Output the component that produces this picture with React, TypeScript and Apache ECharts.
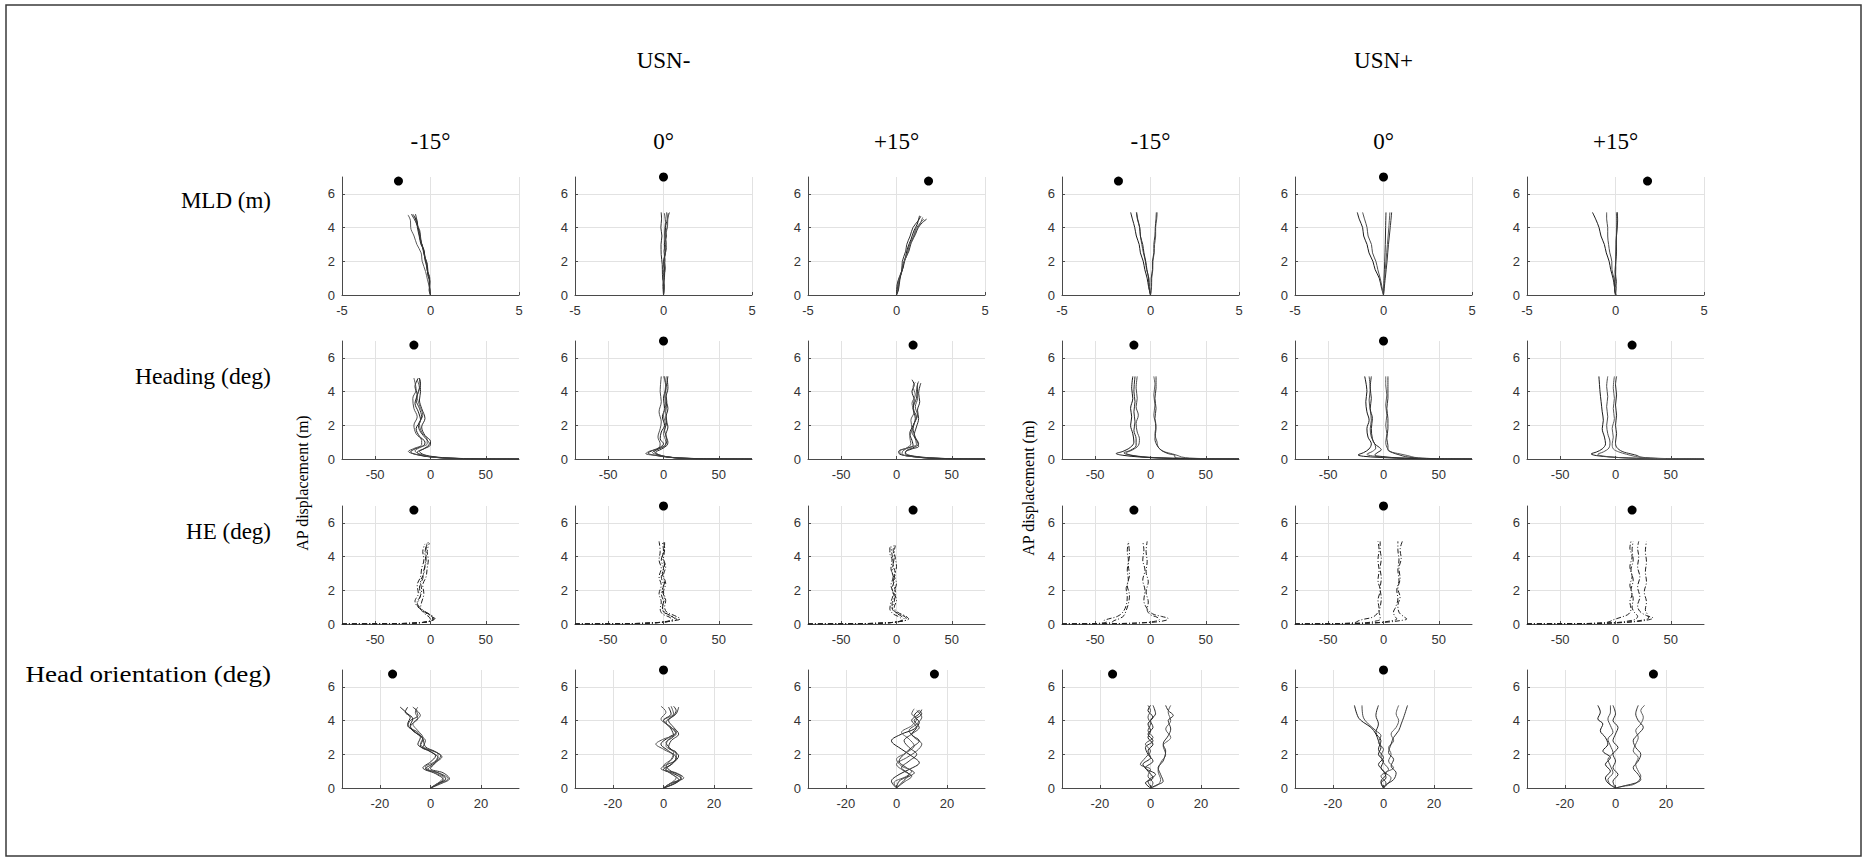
import React, { useEffect, useRef } from "react";
import * as echarts from "echarts";

// ---------- Texts ----------
const groupTitles = ["USN-", "USN+"];
const columnTitles = ["-15°", "0°", "+15°", "-15°", "0°", "+15°"];
const rowTitles = ["MLD (m)", "Heading (deg)", "HE (deg)", "Head orientation (deg)"];
const yAxisTitle = "AP displacement (m)";

// ---------- Axes ----------
const yTicks = [0, 2, 4, 6];
const yRange = [0, 7];
const xRanges = [[-5, 5], [-80, 80], [-80, 80], [-35, 35]];
const xTicks = [[-5, 0, 5], [-50, 0, 50], [-50, 0, 50], [-20, 0, 20]];

// ---------- Target positions (black dots) ----------
const targetXMld = [-1.81, 0, 1.81];
const targetXDeg = [-15, 0, 15];
const targetY = [6.76, 7, 6.76];

// ---------- Row 1: MLD (m) ----------
const mldNegM15 = [
  [[0,0],[-0.04,0.4],[-0.06,0.9],[-0.14,1.3],[-0.18,1.8],[-0.3,2.2],[-0.38,2.7],[-0.52,3.1],[-0.58,3.6],[-0.7,4.0],[-0.76,4.4],[-0.85,4.8]],
  [[0,0],[-0.05,0.5],[-0.04,1.0],[-0.17,1.4],[-0.2,1.9],[-0.33,2.3],[-0.43,2.8],[-0.57,3.3],[-0.6,3.8],[-0.78,4.2],[-0.88,4.6],[-1.0,4.8]],
  [[0,0],[-0.08,0.3],[-0.03,0.8],[-0.16,1.2],[-0.18,1.6],[-0.32,2.1],[-0.36,2.6],[-0.54,3.0],[-0.64,3.5],[-0.74,4.0],[-0.78,4.4],[-0.95,4.7]],
  [[0,0],[-0.05,0.4],[-0.17,0.9],[-0.28,1.4],[-0.47,2.0],[-0.53,2.5],[-0.77,3.0],[-0.93,3.5],[-1.12,4.0],[-1.13,4.4],[-1.27,4.75]],
  [[0,0],[-0.07,0.6],[-0.08,1.1],[-0.2,1.5],[-0.26,2.0],[-0.37,2.4],[-0.46,2.9],[-0.6,3.4],[-0.68,3.9],[-0.82,4.3],[-1.08,4.8]],
];
const mldNeg0 = [
  [[0,0],[0.03,0.5],[-0.04,1.0],[0.06,1.5],[0.01,2.0],[0.11,2.5],[0.05,3.0],[0.16,3.5],[0.11,4.0],[0.21,4.5],[0.18,4.9]],
  [[0,0],[-0.04,0.6],[0.05,1.1],[-0.03,1.6],[0.09,2.1],[0.03,2.6],[0.15,3.1],[0.09,3.6],[0.23,4.1],[0.24,4.5],[0.34,4.9]],
  [[0,0],[0.02,0.5],[-0.06,1.2],[-0.07,1.8],[-0.13,2.4],[-0.14,3.0],[-0.09,3.5],[-0.15,4.0],[-0.11,4.5],[-0.13,4.9]],
  [[0,0],[0.05,0.5],[-0.01,1.0],[0.11,1.6],[0.05,2.2],[0.17,2.8],[0.11,3.4],[0.21,4.0],[0.23,4.5],[0.28,4.85]],
  [[0,0],[0.03,0.7],[0.07,1.4],[0.02,2.0],[0.1,2.6],[0.07,3.2],[0.07,3.8],[0.11,4.3],[0.05,4.85]],
];
const mldNegP15 = [
  [[0,0],[0.06,0.4],[0.14,0.9],[0.31,1.4],[0.41,1.9],[0.52,2.3],[0.63,2.8],[0.82,3.3],[0.98,3.8],[1.17,4.2],[1.3,4.7]],
  [[0,0],[0.11,0.5],[0.19,1.0],[0.32,1.5],[0.43,2.0],[0.62,2.5],[0.73,3.0],[0.97,3.5],[1.08,3.9],[1.37,4.3],[1.55,4.5]],
  [[0,0],[0.03,0.6],[0.17,1.1],[0.37,1.6],[0.48,2.1],[0.7,2.6],[0.83,3.1],[1.07,3.6],[1.23,4.0],[1.47,4.3],[1.7,4.5]],
  [[0,0.05],[0.09,0.3],[0.11,0.8],[0.27,1.3],[0.36,1.8],[0.57,2.3],[0.68,2.8],[0.92,3.3],[1.1,3.8],[1.32,4.2],[1.48,4.6]],
  [[0,0],[0.11,0.3],[0.19,0.9],[0.3,1.5],[0.33,2.0],[0.52,2.6],[0.58,3.0],[0.77,3.5],[0.93,4.0],[1.22,4.4],[1.38,4.68]],
];
const mldPosM15 = [
  [[0,0],[-0.11,0.5],[-0.19,1.0],[-0.32,1.5],[-0.41,2.0],[-0.57,2.5],[-0.64,3.0],[-0.8,3.5],[-0.89,4.0],[-1.02,4.5],[-1.12,4.9]],
  [[0,0],[-0.06,0.5],[-0.09,1.0],[-0.22,1.5],[-0.29,2.0],[-0.4,2.5],[-0.49,3.0],[-0.57,3.5],[-0.61,4.0],[-0.72,4.5],[-0.8,4.9]],
  [[0,0],[-0.09,0.5],[-0.11,1.0],[-0.2,1.5],[-0.27,2.0],[-0.37,2.5],[-0.44,3.0],[-0.57,3.5],[-0.61,4.0],[-0.74,4.5],[-0.78,4.9]],
  [[0,0],[0.06,0.5],[0.07,1.0],[0.13,1.5],[0.14,2.0],[0.21,2.5],[0.23,3.0],[0.29,3.5],[0.29,4.0],[0.35,4.5],[0.38,4.9]],
  [[0,0],[0.04,0.5],[0.04,1.0],[0.11,1.5],[0.11,2.0],[0.19,2.5],[0.19,3.0],[0.25,3.5],[0.27,4.0],[0.31,4.5],[0.33,4.9]],
];
const mldPos0 = [
  [[0,0],[-0.11,0.4],[-0.24,1.0],[-0.47,1.5],[-0.6,2.0],[-0.82,2.5],[-0.93,3.0],[-1.12,3.5],[-1.18,4.0],[-1.37,4.5],[-1.48,4.9]],
  [[0,0],[-0.09,0.5],[-0.19,1.0],[-0.32,1.5],[-0.43,2.0],[-0.62,2.5],[-0.68,3.0],[-0.87,3.5],[-0.93,4.0],[-1.07,4.5],[-1.18,4.9]],
  [[0,0],[0.03,1.0],[0.07,2.0],[0.1,3.0],[0.12,4.0],[0.14,4.9]],
  [[0,0],[0.06,1.0],[0.14,2.0],[0.22,3.0],[0.3,4.0],[0.36,4.9]],
  [[0,0],[0.1,1.0],[0.2,2.0],[0.28,3.0],[0.38,4.0],[0.46,4.9]],
];
const mldPosP15 = [
  [[0,0],[-0.06,0.5],[-0.14,1.0],[-0.27,1.5],[-0.36,2.0],[-0.52,2.5],[-0.63,3.0],[-0.82,3.5],[-0.93,4.0],[-1.12,4.5],[-1.3,4.9]],
  [[0,0],[-0.06,0.5],[-0.09,1.0],[-0.2,1.5],[-0.21,2.0],[-0.32,2.5],[-0.39,3.0],[-0.44,3.5],[-0.44,4.0],[-0.5,4.5],[-0.5,4.9]],
  [[0,0],[-0.05,0.6],[-0.02,1.2],[0,1.8],[0.02,2.4],[0.04,3.0],[0.06,3.6],[0.08,4.2],[0.1,4.9]],
  [[0,0],[0.05,0.4],[0.0,1.0],[0.02,1.6],[0.0,2.2],[0.03,2.8],[0.05,3.5],[0.07,4.2],[0.05,4.9]],
  [[0.05,0],[-0.05,0.3],[0.05,0.8],[-0.02,1.4],[0.02,2.0],[0.06,2.6],[0.04,3.2],[0.08,3.8],[0.12,4.4],[0.1,4.9]],
];

// ---------- Row 2: Heading (deg) ----------
const hdgNegM15 = [
  [[80,0],[40,0.01],[15,0.05],[0,0.12],[-12,0.25],[-18,0.42],[-14,0.6],[-6,0.8],[-5,1.0],[-10,1.35],[-13,1.8],[-9,2.3],[-11,2.8],[-14,3.3],[-12,3.8],[-14,4.3],[-11,4.8]],
  [[80,0],[35,0.02],[12,0.06],[-2,0.15],[-15,0.3],[-20,0.45],[-15,0.62],[-8,0.85],[-8,1.1],[-13,1.5],[-15,2.0],[-12,2.5],[-15,3.0],[-16,3.6],[-13,4.1],[-15,4.8]],
  [[80,0],[45,0.01],[20,0.04],[5,0.1],[-8,0.22],[-12,0.4],[-6,0.6],[0,0.85],[0,1.05],[-5,1.4],[-8,1.9],[-5,2.4],[-8,3.0],[-10,3.5],[-9,4.0],[-10,4.8]],
  [[80,0],[38,0.02],[14,0.06],[0,0.14],[-10,0.3],[-14,0.48],[-9,0.7],[-3,0.9],[-3,1.15],[-8,1.6],[-10,2.1],[-7,2.6],[-10,3.2],[-12,3.7],[-10,4.2],[-12,4.7]],
  [[80,0],[42,0.015],[18,0.05],[4,0.13],[-6,0.26],[-10,0.45],[-5,0.65],[-1,0.9],[-4,1.2],[-9,1.6],[-11,2.0],[-8,2.5],[-10,3.0],[-13,3.5],[-11,4.0],[-9,4.5],[-10,4.8]],
];
const hdgNeg0 = [
  [[80,0],[40,0.01],[18,0.04],[5,0.1],[-8,0.22],[-14,0.35],[-10,0.5],[-3,0.7],[0,0.9],[-3,1.2],[-2,1.6],[1,2.0],[-1,2.5],[1,3.0],[0,3.6],[2,4.2],[1,4.9]],
  [[80,0],[45,0.01],[20,0.04],[8,0.09],[-5,0.2],[-16,0.32],[-12,0.48],[-5,0.6],[-3,0.9],[-5,1.3],[-3,1.8],[-2,2.2],[-4,2.8],[-2,3.4],[-3,4.0],[-2,4.9]],
  [[80,0],[38,0.015],[15,0.05],[4,0.12],[-4,0.25],[-7,0.4],[-2,0.58],[3,0.8],[4,1.0],[2,1.4],[4,1.9],[2,2.4],[4,3.0],[2,3.6],[4,4.2],[3,4.9]],
  [[80,0],[42,0.01],[18,0.05],[6,0.11],[-3,0.22],[-10,0.38],[-6,0.55],[1,0.75],[2,1.05],[0,1.5],[2,2.0],[0,2.6],[2,3.2],[1,3.8],[2,4.4],[0,4.9]],
  [[80,0],[36,0.02],[14,0.06],[2,0.14],[-6,0.27],[-8,0.45],[-3,0.65],[2,0.85],[3,1.2],[1,1.7],[3,2.2],[2,2.8],[3,3.4],[2,4.0],[3,4.5],[4,4.9]],
];
const hdgNegP15 = [
  [[80,0],[50,0.02],[30,0.06],[15,0.14],[3,0.28],[2,0.45],[8,0.62],[15,0.8],[14,1.1],[12,1.5],[15,2.0],[18,2.5],[15,3.0],[16,3.5],[14,4.0],[16,4.4],[14,4.7]],
  [[80,0],[45,0.02],[25,0.07],[12,0.16],[5,0.3],[6,0.5],[12,0.7],[18,0.85],[17,1.2],[14,1.6],[16,2.1],[19,2.6],[17,3.1],[19,3.6],[18,4.1],[20,4.6]],
  [[80,0],[55,0.015],[35,0.05],[22,0.12],[10,0.25],[8,0.4],[14,0.6],[20,0.75],[19,1.0],[16,1.4],[18,1.9],[20,2.4],[19,2.9],[21,3.4],[20,3.9],[22,4.5]],
  [[80,0],[48,0.02],[28,0.07],[14,0.15],[4,0.28],[3,0.48],[9,0.65],[13,0.9],[12,1.3],[14,1.8],[13,2.3],[16,2.8],[14,3.3],[17,3.8],[15,4.3],[17,4.55]],
  [[80,0],[52,0.02],[30,0.05],[18,0.13],[8,0.3],[9,0.5],[16,0.7],[20,0.9],[17,1.3],[15,1.8],[17,2.4],[15,3.0],[18,3.6],[19,4.1],[19,4.5]],
];
const hdgPosM15 = [
  [[80,0],[40,0.02],[10,0.06],[-10,0.12],[-25,0.22],[-31,0.32],[-25,0.45],[-18,0.7],[-15,1.0],[-16,1.5],[-18,2.0],[-17,2.5],[-18,3.0],[-16,3.6],[-17,4.2],[-16,4.9]],
  [[80,0],[45,0.01],[15,0.05],[0,0.1],[-15,0.2],[-22,0.35],[-16,0.55],[-11,0.8],[-10,1.2],[-12,1.6],[-13,2.1],[-11,2.6],[-13,3.1],[-12,3.6],[-13,4.2],[-12,4.9]],
  [[80,0],[42,0.015],[12,0.05],[-5,0.11],[-18,0.22],[-24,0.36],[-18,0.52],[-13,0.8],[-13,1.2],[-15,1.7],[-14,2.2],[-15,2.8],[-14,3.4],[-15,4.0],[-14,4.9]],
  [[80,0],[50,0.02],[35,0.06],[28,0.12],[25,0.2],[20,0.3],[12,0.45],[7,0.7],[6,1.0],[4,1.5],[5,2.0],[3,2.6],[4,3.2],[3,3.8],[4,4.4],[3,4.9]],
  [[80,0],[45,0.015],[28,0.05],[22,0.1],[22,0.2],[16,0.32],[10,0.5],[6,0.8],[4,1.2],[5,1.8],[4,2.4],[5,3.0],[4,3.6],[5,4.2],[5,4.9]],
];
const hdgPos0 = [
  [[80,0],[40,0.015],[12,0.05],[-5,0.1],[-18,0.16],[-23,0.24],[-18,0.38],[-13,0.6],[-11,0.9],[-14,1.3],[-15,1.8],[-13,2.3],[-15,2.8],[-16,3.4],[-15,4.0],[-17,4.9]],
  [[80,0],[45,0.01],[18,0.05],[2,0.1],[-10,0.18],[-15,0.28],[-10,0.45],[-7,0.65],[-8,0.9],[-11,1.3],[-12,1.8],[-11,2.3],[-12,2.9],[-13,3.5],[-12,4.1],[-13,4.9]],
  [[80,0],[42,0.02],[15,0.06],[0,0.14],[-8,0.24],[-5,0.4],[-2,0.55],[-4,0.7],[-8,0.9],[-10,1.2],[-11,1.8],[-10,2.4],[-12,3.0],[-11,3.6],[-12,4.2],[-11,4.9]],
  [[80,0],[50,0.02],[35,0.05],[28,0.1],[22,0.2],[15,0.3],[6,0.45],[3,0.7],[2,1.0],[3,1.5],[2,2.0],[3,2.6],[2,3.2],[3,3.8],[2,4.4],[2,4.9]],
  [[80,0],[48,0.02],[30,0.06],[20,0.14],[14,0.25],[8,0.38],[4,0.55],[4,0.8],[3,1.2],[4,1.8],[4,2.4],[3,3.0],[4,3.6],[4,4.2],[4,4.9]],
];
const hdgPosP15 = [
  [[80,0],[40,0.02],[12,0.06],[-5,0.12],[-17,0.2],[-22,0.3],[-17,0.42],[-12,0.6],[-9,0.9],[-10,1.3],[-12,1.8],[-11,2.3],[-12,2.8],[-13,3.4],[-14,4.0],[-15,4.9]],
  [[80,0],[44,0.015],[15,0.05],[0,0.1],[-12,0.18],[-16,0.28],[-11,0.42],[-6,0.65],[-5,1.0],[-7,1.5],[-8,2.0],[-7,2.5],[-8,3.1],[-7,3.7],[-8,4.3],[-7,4.9]],
  [[80,0],[50,0.02],[32,0.06],[22,0.12],[20,0.2],[14,0.3],[6,0.45],[1,0.7],[0,1.0],[1,1.5],[0,2.0],[1,2.6],[0,3.2],[1,3.8],[0,4.4],[1,4.9]],
  [[80,0],[46,0.02],[28,0.06],[18,0.15],[10,0.28],[3,0.42],[-2,0.6],[-3,0.9],[-2,1.3],[-3,1.8],[-1,2.4],[-2,3.0],[-1,3.6],[-2,4.2],[-1,4.9]],
];

// ---------- Row 3: HE (deg) ----------
const heNegM15 = [
  [[-80,0],[-50,0.01],[-25,0.03],[-10,0.07],[-2,0.14],[3,0.28],[2,0.45],[-4,0.7],[-10,1.0],[-12,1.3],[-9,1.7],[-10,2.2],[-7,2.7],[-6,3.2],[-4,3.7],[-5,4.2],[-3,4.8]],
  [[-80,0],[-48,0.01],[-22,0.04],[-8,0.09],[0,0.18],[4,0.33],[1,0.5],[-6,0.75],[-12,1.05],[-14,1.35],[-11,1.8],[-12,2.3],[-9,2.8],[-8,3.3],[-6,3.8],[-7,4.3],[-5,4.75]],
  [[-80,0],[-52,0.008],[-28,0.025],[-12,0.06],[-4,0.12],[0,0.22],[-1,0.4],[-6,0.65],[-9,0.95],[-8,1.3],[-6,1.8],[-7,2.3],[-4,2.8],[-3,3.3],[-2,3.8],[-3,4.3],[-1,4.8]],
  [[-80,0],[-46,0.012],[-20,0.04],[-6,0.1],[1,0.2],[2,0.36],[-2,0.55],[-8,0.85],[-12,1.15],[-10,1.5],[-8,2.0],[-9,2.5],[-6,3.0],[-5,3.5],[-4,4.0],[-4,4.5],[-2,4.85]],
];
const heNeg0 = [
  [[-80,0],[-50,0.01],[-25,0.03],[-8,0.07],[5,0.15],[12,0.28],[8,0.45],[2,0.65],[-1,0.95],[0,1.3],[-2,1.8],[0,2.3],[-2,2.8],[0,3.3],[-2,3.8],[0,4.3],[-1,4.9]],
  [[-80,0],[-45,0.012],[-20,0.04],[-5,0.09],[8,0.18],[15,0.3],[10,0.5],[3,0.7],[1,1.0],[2,1.4],[0,1.9],[2,2.4],[0,2.9],[2,3.4],[0,3.9],[1,4.4],[1,4.85]],
  [[-80,0],[-52,0.008],[-28,0.025],[-10,0.06],[2,0.13],[8,0.25],[5,0.42],[-1,0.6],[-3,0.9],[-2,1.3],[-4,1.8],[-2,2.3],[-4,2.8],[-2,3.3],[-4,3.8],[-3,4.3],[-4,4.9]],
  [[-80,0],[-48,0.01],[-22,0.035],[-6,0.08],[4,0.17],[10,0.32],[6,0.5],[0,0.72],[-1,1.05],[1,1.5],[-1,2.0],[1,2.5],[-1,3.0],[1,3.5],[-1,4.0],[1,4.5],[0,4.9]],
];
const heNegP15 = [
  [[-80,0],[-50,0.01],[-25,0.03],[-8,0.07],[2,0.14],[9,0.26],[8,0.42],[2,0.6],[-3,0.85],[-4,1.2],[-2,1.6],[-4,2.1],[-2,2.6],[-4,3.1],[-3,3.6],[-4,4.1],[-5,4.6]],
  [[-80,0],[-46,0.012],[-20,0.04],[-4,0.09],[6,0.18],[11,0.3],[8,0.48],[1,0.7],[-2,1.0],[0,1.4],[-2,1.9],[0,2.4],[-2,2.9],[0,3.4],[-1,3.9],[-2,4.3],[-1,4.65]],
  [[-80,0],[-52,0.008],[-28,0.025],[-10,0.06],[0,0.12],[5,0.24],[3,0.4],[-3,0.6],[-6,0.9],[-5,1.3],[-3,1.8],[-5,2.3],[-3,2.8],[-5,3.3],[-4,3.8],[-6,4.2],[-6,4.55]],
  [[-80,0],[-48,0.01],[-22,0.035],[-6,0.08],[3,0.16],[7,0.3],[4,0.48],[-1,0.68],[-4,0.95],[-2,1.35],[-1,1.9],[-3,2.5],[-1,3.0],[-3,3.5],[-2,4.0],[-3,4.4],[-2,4.7]],
];
const hePosM15 = [
  [[-80,0],[-60,0.01],[-45,0.05],[-40,0.12],[-42,0.2],[-38,0.3],[-30,0.45],[-25,0.7],[-22,1.1],[-21,1.6],[-22,2.1],[-20,2.6],[-21,3.2],[-20,3.8],[-21,4.3],[-20,4.9]],
  [[-80,0],[-55,0.01],[-42,0.04],[-35,0.1],[-33,0.2],[-28,0.32],[-24,0.5],[-22,0.8],[-20,1.2],[-19,1.7],[-21,2.3],[-19,2.9],[-20,3.5],[-19,4.1],[-20,4.9]],
  [[-80,0],[-50,0.01],[-25,0.03],[-10,0.06],[5,0.12],[14,0.22],[16,0.32],[10,0.45],[2,0.6],[-3,0.9],[-6,1.4],[-5,2.0],[-7,2.6],[-5,3.2],[-7,3.8],[-6,4.4],[-7,4.9]],
  [[-80,0],[-45,0.012],[-20,0.04],[-6,0.08],[3,0.15],[8,0.26],[6,0.4],[0,0.55],[-3,0.85],[-2,1.3],[-4,1.9],[-2,2.5],[-4,3.1],[-3,3.7],[-4,4.3],[-3,4.9]],
];
const hePos0 = [
  [[-80,0],[-55,0.01],[-35,0.04],[-25,0.1],[-23,0.18],[-18,0.28],[-10,0.4],[-6,0.6],[-4,0.9],[-5,1.4],[-3,2.0],[-5,2.6],[-4,3.2],[-5,3.8],[-4,4.4],[-5,4.9]],
  [[-80,0],[-50,0.012],[-28,0.035],[-15,0.08],[-8,0.16],[-3,0.28],[-3,0.45],[-4,0.7],[-3,1.0],[-2,1.5],[-3,2.1],[-2,2.7],[-3,3.3],[-2,3.9],[-3,4.4],[-3,4.9]],
  [[-80,0],[-50,0.01],[-25,0.03],[-8,0.06],[5,0.12],[15,0.2],[21,0.3],[18,0.45],[14,0.7],[13,1.1],[15,1.6],[13,2.1],[15,2.7],[14,3.3],[16,3.9],[15,4.4],[17,4.9]],
  [[-80,0],[-45,0.012],[-20,0.04],[-4,0.09],[6,0.18],[12,0.3],[10,0.48],[9,0.7],[11,1.0],[13,1.5],[12,2.0],[14,2.6],[13,3.2],[14,3.8],[13,4.4],[13,4.9]],
];
const hePosP15 = [
  [[-80,0],[-50,0.01],[-25,0.03],[-10,0.07],[-5,0.15],[-2,0.25],[5,0.4],[12,0.6],[14,0.9],[13,1.3],[15,1.8],[13,2.3],[15,2.8],[13,3.4],[15,4.0],[13,4.5],[14,4.9]],
  [[-80,0],[-48,0.01],[-20,0.035],[0,0.08],[10,0.16],[18,0.28],[20,0.45],[17,0.7],[15,1.0],[16,1.5],[14,2.0],[16,2.6],[14,3.2],[16,3.8],[15,4.4],[16,4.9]],
  [[-80,0],[-46,0.012],[-18,0.04],[5,0.08],[20,0.15],[30,0.25],[34,0.35],[28,0.5],[22,0.75],[20,1.1],[22,1.6],[20,2.2],[22,2.8],[20,3.4],[21,4.0],[20,4.5],[21,4.9]],
  [[-80,0],[-50,0.01],[-22,0.03],[0,0.07],[15,0.14],[25,0.24],[30,0.36],[29,0.55],[27,0.85],[28,1.3],[26,1.9],[28,2.5],[27,3.1],[28,3.7],[27,4.3],[28,4.9]],
];

// ---------- Row 4: Head orientation (deg) ----------
const hoNegM15 = [
  [[0,0],[3,0.25],[6,0.55],[3,0.9],[-2,1.15],[1,1.45],[3,1.8],[0,2.15],[-4,2.5],[-3,2.9],[-6,3.3],[-8,3.7],[-7,4.1],[-9,4.4],[-12,4.8]],
  [[0,0],[4,0.3],[7,0.55],[4,0.85],[-1,1.1],[2,1.5],[4,1.9],[1,2.2],[-3,2.4],[-2,2.8],[-5,3.2],[-8,3.6],[-6,4.0],[-4,4.3],[-7,4.8]],
  [[0,0],[2,0.2],[5,0.5],[2,0.85],[-3,1.2],[0,1.55],[2,1.9],[-1,2.25],[-5,2.6],[-4,3.0],[-7,3.4],[-9,3.8],[-8,4.2],[-10,4.5],[-9,4.8]],
  [[0,0],[3,0.3],[5,0.6],[1,0.95],[-2,1.25],[2,1.6],[3,2.0],[-1,2.3],[-4,2.6],[-3,3.0],[-5,3.4],[-7,3.8],[-5,4.1],[-6,4.5],[-5,4.8]],
  [[0,0],[4,0.25],[7.5,0.55],[5,0.9],[0,1.15],[2,1.5],[4.5,1.85],[2,2.15],[-2,2.45],[-3,2.9],[-5,3.3],[-9,3.7],[-8,4.0],[-5,4.3],[-6,4.7]],
];
const hoNeg0 = [
  [[0,0],[4,0.25],[7,0.55],[4,0.85],[0,1.1],[3,1.4],[5,1.8],[2,2.2],[-1,2.6],[2,3.0],[5,3.3],[2,3.7],[0,4.0],[3,4.4],[2,4.8]],
  [[0,0],[3,0.3],[8,0.6],[5,0.9],[-1,1.15],[2,1.5],[4,1.9],[0,2.3],[-3,2.6],[0,2.9],[5,3.2],[3,3.6],[0,4.0],[4,4.4],[3,4.85]],
  [[0,0],[2,0.2],[6,0.5],[3,0.85],[1,1.1],[4,1.5],[6,1.9],[3,2.3],[1,2.7],[4,3.1],[3,3.5],[1,3.9],[4,4.3],[5,4.6],[4,4.85]],
  [[0,0],[3,0.3],[5,0.6],[2,0.95],[0,1.3],[3,1.7],[4,2.1],[1,2.5],[2,2.9],[5,3.3],[2,3.7],[-1,4.1],[1,4.5],[-1,4.85]],
  [[0,0],[5,0.3],[7,0.65],[3,1.0],[1,1.3],[5,1.7],[5,2.1],[2,2.4],[3,2.8],[6,3.2],[4,3.6],[2,4.0],[5,4.4],[6,4.8]],
];
const hoNegP15 = [
  [[0,0],[-2,0.4],[1,0.8],[5,1.1],[9,1.5],[6,1.9],[2,2.3],[-2,2.8],[2,3.2],[7,3.5],[9,3.9],[7,4.3],[9,4.6]],
  [[0,0],[3,0.35],[6,0.7],[3,1.0],[0,1.4],[4,1.8],[8,2.2],[10,2.6],[7,3.0],[5,3.4],[8,3.8],[10,4.2],[8,4.6]],
  [[0,0],[2,0.3],[4,0.6],[7,0.9],[4,1.2],[1,1.6],[3,2.0],[6,2.4],[9,2.8],[6,3.2],[8,3.6],[6,4.0],[9,4.4],[10,4.65]],
  [[0,0],[-1,0.3],[4,0.7],[6,1.0],[2,1.3],[0,1.7],[4,2.1],[7,2.5],[5,2.9],[2,3.3],[6,3.7],[8,4.1],[6,4.4],[7,4.7]],
  [[0,0],[1,0.4],[5,0.8],[2,1.2],[5,1.6],[8,2.0],[5,2.4],[3,2.8],[6,3.2],[9,3.6],[7,4.0],[10,4.4],[9,4.6]],
];
const hoPosM15 = [
  [[0,0],[-2,0.3],[1,0.6],[-1,1.0],[-3,1.4],[0,1.8],[-1,2.2],[1,2.6],[-1,3.0],[0,3.4],[-1,3.8],[1,4.2],[-1,4.6],[0,4.9]],
  [[0,0],[1,0.3],[-1,0.7],[0,1.1],[-4,1.4],[-2,1.8],[0,2.2],[-2,2.6],[1,3.0],[-1,3.4],[0,3.8],[-1,4.2],[0,4.6],[-1,4.9]],
  [[0.5,0],[-1,0.4],[2,0.8],[-2,1.2],[1,1.6],[-1,2.0],[-2,2.4],[1,2.8],[-1,3.2],[1,3.6],[0,4.0],[2,4.4],[1,4.9]],
  [[0,0],[3,0.2],[4,0.5],[3,1.0],[4,1.5],[6,2.0],[5,2.5],[8,3.0],[6,3.5],[8,4.0],[7,4.5],[8,4.9]],
  [[0,0],[2,0.15],[5,0.4],[4,0.8],[3,1.2],[5,1.6],[6,2.2],[5,2.6],[7,3.1],[8,3.5],[7,4.0],[9,4.3],[7,4.6],[6,4.9]],
];
const hoPos0 = [
  [[0,0],[-1,0.4],[1,0.8],[-1,1.2],[0,1.6],[-2,2.0],[-1,2.4],[-2,2.8],[-3,3.2],[-5,3.6],[-8,3.9],[-10,4.2],[-11.5,4.9]],
  [[0,0],[1,0.3],[-1,0.7],[2,1.1],[0,1.5],[-1,1.9],[0,2.3],[-2,2.7],[-1,3.1],[-3,3.4],[-6,3.8],[-8,4.2],[-8.5,4.9]],
  [[0,0],[-1,0.3],[1,0.6],[0,1.0],[-2,1.4],[0,1.8],[-2,2.3],[-1,2.8],[-3,3.3],[-2,3.8],[-3,4.3],[-2,4.9]],
  [[0,0],[2,0.3],[3,0.6],[1,0.9],[4,1.2],[2,1.6],[3,2.0],[2,2.4],[4,2.8],[3,3.2],[5,3.6],[6,4.0],[5,4.4],[6,4.9]],
  [[0,0],[1,0.2],[4,0.5],[5,0.9],[3,1.3],[4,1.7],[2,2.1],[3,2.6],[4,3.0],[6,3.4],[7,3.8],[8,4.2],[9.5,4.9]],
];
const hoPosP15 = [
  [[0,0],[-3,0.3],[-4,0.6],[-2,1.0],[-4,1.4],[-2,1.8],[-5,2.2],[-3,2.6],[-4,3.0],[-6,3.4],[-5,3.8],[-7,4.1],[-6,4.5],[-7,4.9]],
  [[0,0],[-2,0.2],[-3,0.5],[-1,0.9],[-2,1.3],[-3,1.7],[-1,2.1],[-2,2.5],[-3,2.9],[-1,3.3],[-2,3.7],[-3,4.1],[-2,4.5],[-2,4.9]],
  [[0,0],[-1,0.4],[1,0.8],[-1,1.2],[0,1.6],[-1,2.0],[1,2.4],[-1,2.8],[0,3.2],[1,3.6],[-1,4.0],[0,4.4],[-1,4.9]],
  [[0,0],[3,0.1],[7,0.2],[9,0.4],[10,0.7],[9,1.0],[8,1.4],[9,1.8],[7,2.2],[8,2.6],[9,3.0],[8,3.4],[10,3.8],[11,4.2],[10,4.6],[11.5,4.9]],
  [[0,0],[4,0.15],[8,0.3],[10,0.5],[9,0.8],[7,1.2],[9,1.6],[10,2.0],[8,2.4],[7,2.8],[9,3.2],[11,3.6],[9,4.0],[8,4.4],[9,4.9]],
];

const panelTraces = [
  [mldNegM15, mldNeg0, mldNegP15, mldPosM15, mldPos0, mldPosP15],
  [hdgNegM15, hdgNeg0, hdgNegP15, hdgPosM15, hdgPos0, hdgPosP15],
  [heNegM15, heNeg0, heNegP15, hePosM15, hePos0, hePosP15],
  [hoNegM15, hoNeg0, hoNegP15, hoPosM15, hoPos0, hoPosP15],
];

// ---------- Layout ----------
const colLeft = [342, 575, 808, 1062, 1295, 1527];
const rowTop = [177, 341, 506, 670];
const PW = 177;
const PH = 118;
const traceColors = ["#1a1a1a", "#4d4d4d", "#2b2b2b", "#5c5c5c", "#333333"];
const SERIF = '"Liberation Serif", "Times New Roman", serif';
const SANS = '"Liberation Sans", Arial, Helvetica, sans-serif';

function buildOption() {
  const axisColor = "#4a4a4a";
  const gridColor = "#e2e2e2";
  const grid: any[] = [];
  const xAxis: any[] = [];
  const yAxis: any[] = [];
  const series: any[] = [];
  for (let r = 0; r < 4; r++) {
    for (let c = 0; c < 6; c++) {
      const i = r * 6 + c;
      grid.push({
        left: colLeft[c], top: rowTop[r], width: PW, height: PH,
        containLabel: false, outerBoundsMode: "none",
      });
      xAxis.push({
        type: "value", gridIndex: i, min: xRanges[r][0], max: xRanges[r][1],
        axisLine: { show: true, onZero: false, lineStyle: { color: axisColor, width: 1 } },
        axisTick: { show: true, inside: true, length: 3, customValues: xTicks[r], lineStyle: { color: axisColor } },
        axisLabel: { show: true, customValues: xTicks[r], margin: 9, color: "#333", fontSize: 13, fontFamily: SANS },
        splitLine: { show: true, lineStyle: { color: gridColor, width: 1 } },
      });
      yAxis.push({
        type: "value", gridIndex: i, min: yRange[0], max: yRange[1],
        axisLine: { show: true, onZero: false, lineStyle: { color: axisColor, width: 1 } },
        axisTick: { show: true, inside: true, length: 3, customValues: yTicks, lineStyle: { color: axisColor } },
        axisLabel: { show: true, customValues: yTicks, margin: 7, color: "#333", fontSize: 13, fontFamily: SANS },
        splitLine: { show: true, lineStyle: { color: gridColor, width: 1 } },
      });
      panelTraces[r][c].forEach((trace, k) => {
        series.push({
          type: "line", xAxisIndex: i, yAxisIndex: i, data: trace,
          symbol: "none", showSymbol: false, smooth: 0.35, silent: true, z: 2,
          lineStyle: {
            width: 1,
            color: r === 2 ? "#1f1f1f" : traceColors[k % traceColors.length],
            type: r === 2 ? [5, 2, 1, 2] : "solid",
          },
        });
      });
      const tc = c % 3;
      series.push({
        type: "scatter", xAxisIndex: i, yAxisIndex: i,
        data: [[r === 0 ? targetXMld[tc] : targetXDeg[tc], targetY[tc]]],
        symbol: "circle", symbolSize: 9, clip: false, silent: true, z: 3,
        itemStyle: { color: "#000", opacity: 1 },
      });
    }
  }

  const graphic: any[] = [];
  graphic.push({
    type: "rect", shape: { x: 6, y: 5, width: 1855, height: 851 },
    style: { fill: "none", stroke: "#3a3a3a", lineWidth: 1.5 }, silent: true,
  });
  const groupCenters = [colLeft[1] + PW / 2, colLeft[4] + PW / 2];
  groupTitles.forEach((t, g) => {
    graphic.push({
      type: "text", x: groupCenters[g], y: 60,
      style: { text: t, fontSize: 23, fontFamily: SERIF, fill: "#000", align: "center", verticalAlign: "middle" },
    });
  });
  columnTitles.forEach((t, c) => {
    graphic.push({
      type: "text", x: colLeft[c] + PW / 2, y: 141,
      style: { text: t, fontSize: 23, fontFamily: SERIF, fill: "#000", align: "center", verticalAlign: "middle" },
    });
  });
  const rowLabelY = [200, 376, 531, 674];
  const rowLabelScaleX = [1, 1.03, 1, 1.18];
  rowTitles.forEach((t, r) => {
    graphic.push({
      type: "text", x: 271, y: rowLabelY[r], scaleX: rowLabelScaleX[r],
      style: { text: t, fontSize: 23, fontFamily: SERIF, fill: "#000", align: "right", verticalAlign: "middle" },
    });
  });
  [[302, 483], [1028, 488]].forEach(([x, y]) => {
    graphic.push({
      type: "text", x, y, rotation: Math.PI / 2,
      style: { text: yAxisTitle, fontSize: 16, fontFamily: SERIF, fill: "#000", align: "center", verticalAlign: "middle" },
    });
  });

  return { animation: false, backgroundColor: "#fff", grid, xAxis, yAxis, series, graphic };
}

export default function App() {
  const ref = useRef<HTMLDivElement>(null);
  useEffect(() => {
    document.body.style.margin = "0";
    if (!ref.current) return;
    const chart = echarts.init(ref.current, undefined, { renderer: "svg" });
    chart.setOption(buildOption() as any);
    return () => chart.dispose();
  }, []);
  return (
    <div
      ref={ref}
      style={{ position: "absolute", left: 0, top: 0, width: 1864, height: 859, background: "#fff" }}
    />
  );
}
